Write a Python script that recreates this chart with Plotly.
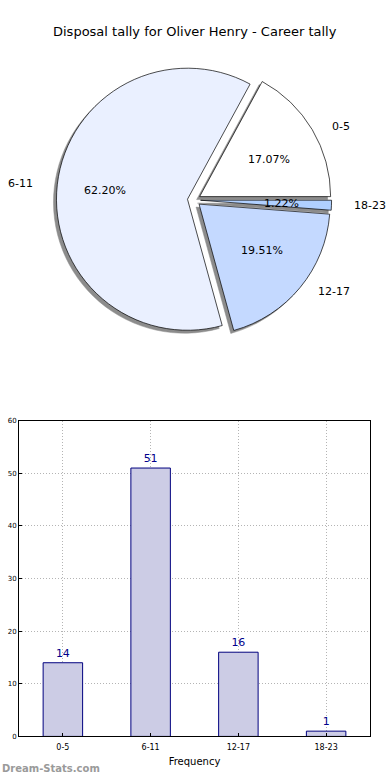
import math
import plotly.graph_objects as go

categories = ["0-5", "6-11", "12-17", "18-23"]
counts = [14, 51, 16, 1]
pie_colors = ["#ffffff", "#eaf0ff", "#c4d9ff", "#b0d0ff"]
y_ticks = [0, 10, 20, 30, 40, 50, 60]

W, H = 390, 780
FONT = "DejaVu Sans"

px = lambda v: v / W
py = lambda v: 1 - v / H

# pie geometry (pixels)
cx, cy, R = 194, 198, 139
dom_x = [px(cx - R), px(cx + R)]
dom_y = [py(cy + R), py(cy - R)]
sdx, sdy = -3, 3
shadow_x = [px(cx - R + sdx), px(cx + R + sdx)]
shadow_y = [py(cy + R + sdy), py(cy - R + sdy)]

# matplotlib draws counter-clockwise from 3 o'clock; plotly equivalent:
# reversed order, clockwise from 3 o'clock
rev_labels = categories[::-1]
rev_values = counts[::-1]
rev_colors = pie_colors[::-1]
pull = [0.05] * len(counts)

fig = go.Figure()
common = dict(labels=rev_labels, values=rev_values, sort=False,
              direction="clockwise", rotation=90, pull=pull,
              textinfo="none", showlegend=False)
fig.add_trace(go.Pie(
    **common, domain=dict(x=shadow_x, y=shadow_y),
    marker=dict(colors=["#8c8c8c"] * 4, line=dict(color="#8c8c8c", width=0.5)),
    hoverinfo="skip",
))
fig.add_trace(go.Pie(
    **common, domain=dict(x=dom_x, y=dom_y),
    marker=dict(colors=rev_colors, line=dict(color="#000000", width=0.7)),
))

# labels / percentages placed like matplotlib (labeldistance 1.1, pctdistance 0.6)
rx, ry, expl = 141, 128, 0.03
total = sum(counts)
annotations = []
cum = 0
for lab, v in zip(categories, counts):
    th = 2 * math.pi * (cum + v / 2) / total
    cum += v
    c, s = math.cos(th), math.sin(th)
    lx = 193 + (1.1 + expl) * rx * c
    ly = cy - (1.1 + expl) * ry * s
    annotations.append(dict(text=lab, x=px(lx), y=py(ly), xref="paper", yref="paper",
                            xanchor="left" if c > 0 else "right", yanchor="middle",
                            showarrow=False, font=dict(family=FONT, size=11, color="black")))
    tx = 193 + (0.6 + expl) * rx * c
    ty = cy - (0.6 + expl) * ry * s
    annotations.append(dict(text=f"{100 * v / total:.2f}%", x=px(tx), y=py(ty),
                            xref="paper", yref="paper", xanchor="center", yanchor="middle",
                            showarrow=False, font=dict(family=FONT, size=11, color="black")))

annotations.append(dict(text="<b>Dream-Stats.com</b>", x=px(0), y=py(772),
                        xref="paper", yref="paper", xanchor="left", yanchor="middle",
                        showarrow=False, font=dict(family=FONT, size=10, color="#9a9a9a")))
annotations.append(dict(text="Disposal tally for Oliver Henry - Career tally",
                        x=0.5, y=py(28), xref="paper", yref="paper",
                        xanchor="center", yanchor="middle", showarrow=False,
                        font=dict(family=FONT, size=13, color="black")))

# bar chart
fig.add_trace(go.Bar(
    x=categories, y=counts, width=0.45,
    marker=dict(color="#ccccE5", line=dict(color="#00007f", width=1)),
    text=counts, textposition="outside", cliponaxis=False,
    textfont=dict(family=FONT, size=11, color="#00008b"),
    showlegend=False, xaxis="x", yaxis="y", hoverinfo="x+y",
))

grid = dict(showgrid=True, gridcolor="#b4b4b4", griddash="1px,2px", gridwidth=1)
fig.update_layout(
    width=W, height=H, margin=dict(l=0, r=0, t=0, b=0),
    paper_bgcolor="white", plot_bgcolor="white",
    font=dict(family=FONT, color="#000000"),
    xaxis=dict(domain=[px(19), px(370)], range=[-0.5, 3.5], anchor="y",
               showline=True, linecolor="black", linewidth=1, mirror=True,
               ticks="inside", ticklen=3, tickcolor="black", ticklabelstandoff=3,
               tickfont=dict(family=FONT, size=8),
               title=dict(text="Frequency", font=dict(family=FONT, size=10), standoff=6),
               **grid),
    yaxis=dict(domain=[py(740), py(421)], range=[0, 60], tickvals=y_ticks, anchor="x",
               showline=True, linecolor="black", linewidth=1, mirror=True,
               zeroline=False, ticks="inside", ticklen=3, tickcolor="black",
               tickfont=dict(family=FONT, size=7), **grid),
    annotations=annotations,
)

fig.write_html("out.html", config={"displayModeBar": False},
               post_script="document.body.style.margin='0';document.body.style.overflow='hidden';")
